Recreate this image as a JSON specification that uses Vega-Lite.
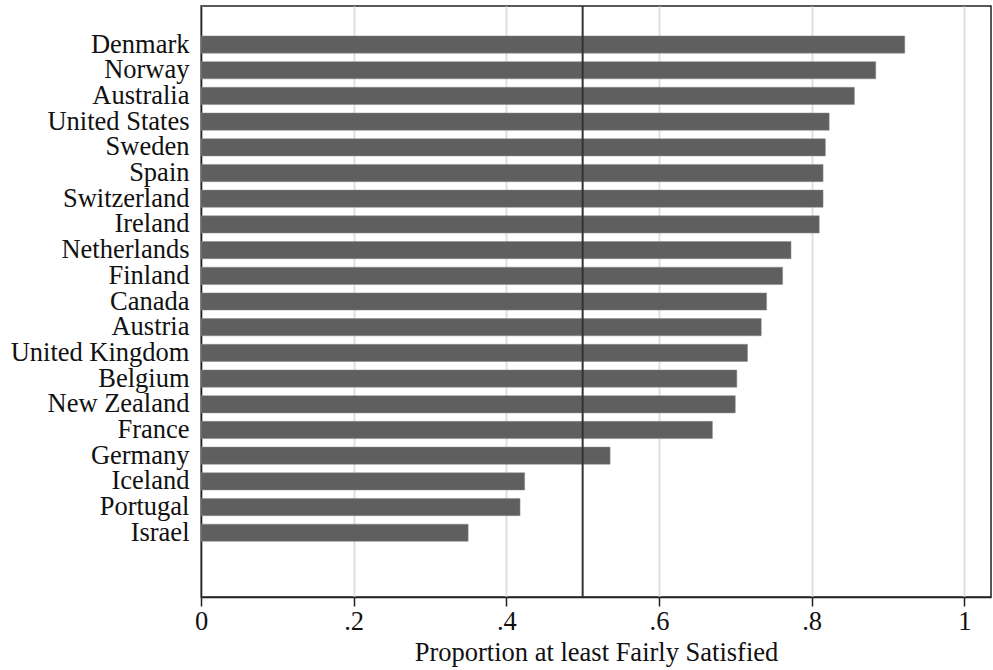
{
  "$schema": "https://vega.github.io/schema/vega-lite/v6.json",
  "autosize": "none",
  "width": 790,
  "height": 591,
  "padding": {"left": 201, "top": 6, "right": 2, "bottom": 73},
  "background": "white",
  "config": {
    "font": "Liberation Serif",
    "view": {"stroke": "#222222", "strokeWidth": 1.5},
    "axis": {"labelFont": "Liberation Serif", "titleFont": "Liberation Serif", "labelColor": "#111111", "titleColor": "#111111"}
  },
  "data": {
    "values": [
      {"country": "Denmark", "value": 0.922},
      {"country": "Norway", "value": 0.884},
      {"country": "Australia", "value": 0.856},
      {"country": "United States", "value": 0.823},
      {"country": "Sweden", "value": 0.818},
      {"country": "Spain", "value": 0.815},
      {"country": "Switzerland", "value": 0.815},
      {"country": "Ireland", "value": 0.810},
      {"country": "Netherlands", "value": 0.773},
      {"country": "Finland", "value": 0.762},
      {"country": "Canada", "value": 0.741},
      {"country": "Austria", "value": 0.734},
      {"country": "United Kingdom", "value": 0.716},
      {"country": "Belgium", "value": 0.702},
      {"country": "New Zealand", "value": 0.700},
      {"country": "France", "value": 0.670},
      {"country": "Germany", "value": 0.536},
      {"country": "Iceland", "value": 0.424},
      {"country": "Portugal", "value": 0.418},
      {"country": "Israel", "value": 0.350}
    ]
  },
  "layer": [
    {
      "mark": {"type": "bar", "color": "#5f5f5f", "stroke": "#8a8a8a", "strokeWidth": 0.5},
      "encoding": {
        "y": {
          "field": "country",
          "type": "nominal",
          "sort": null,
          "scale": {
            "domain": [" ", "Denmark", "Norway", "Australia", "United States", "Sweden", "Spain", "Switzerland", "Ireland", "Netherlands", "Finland", "Canada", "Austria", "United Kingdom", "Belgium", "New Zealand", "France", "Germany", "Iceland", "Portugal", "Israel", "  ", "   "],
            "paddingInner": 0.33,
            "paddingOuter": 0.165
          },
          "axis": {
            "title": null,
            "ticks": false,
            "labelFontSize": 26.5,
            "labelPadding": 12,
            "domain": true,
            "domainColor": "#222222",
            "domainWidth": 1.5,
            "grid": false
          }
        },
        "x": {
          "field": "value",
          "type": "quantitative",
          "scale": {"domain": [0, 1.035], "nice": false, "zero": true},
          "axis": {
            "title": "Proportion at least Fairly Satisfied",
            "titleFontSize": 26.5,
            "titleFontWeight": "normal",
            "titlePadding": 5,
            "values": [0, 0.2, 0.4, 0.6, 0.8, 1],
            "labelExpr": "replace(format(datum.value, '.1~f'), '0.', '.')",
            "labelFontSize": 26.5,
            "labelPadding": 2,
            "tickSize": 9,
            "tickColor": "#222222",
            "tickWidth": 1.5,
            "domainColor": "#222222",
            "domainWidth": 1.5,
            "grid": true,
            "gridColor": "#e0e0e0",
            "gridWidth": 2,
            "labelFlush": false
          }
        }
      }
    },
    {
      "data": {"values": [{"ref": 0.5}]},
      "mark": {"type": "rule", "color": "#333333", "strokeWidth": 2},
      "encoding": {
        "x": {"field": "ref", "type": "quantitative"}
      }
    }
  ]
}
